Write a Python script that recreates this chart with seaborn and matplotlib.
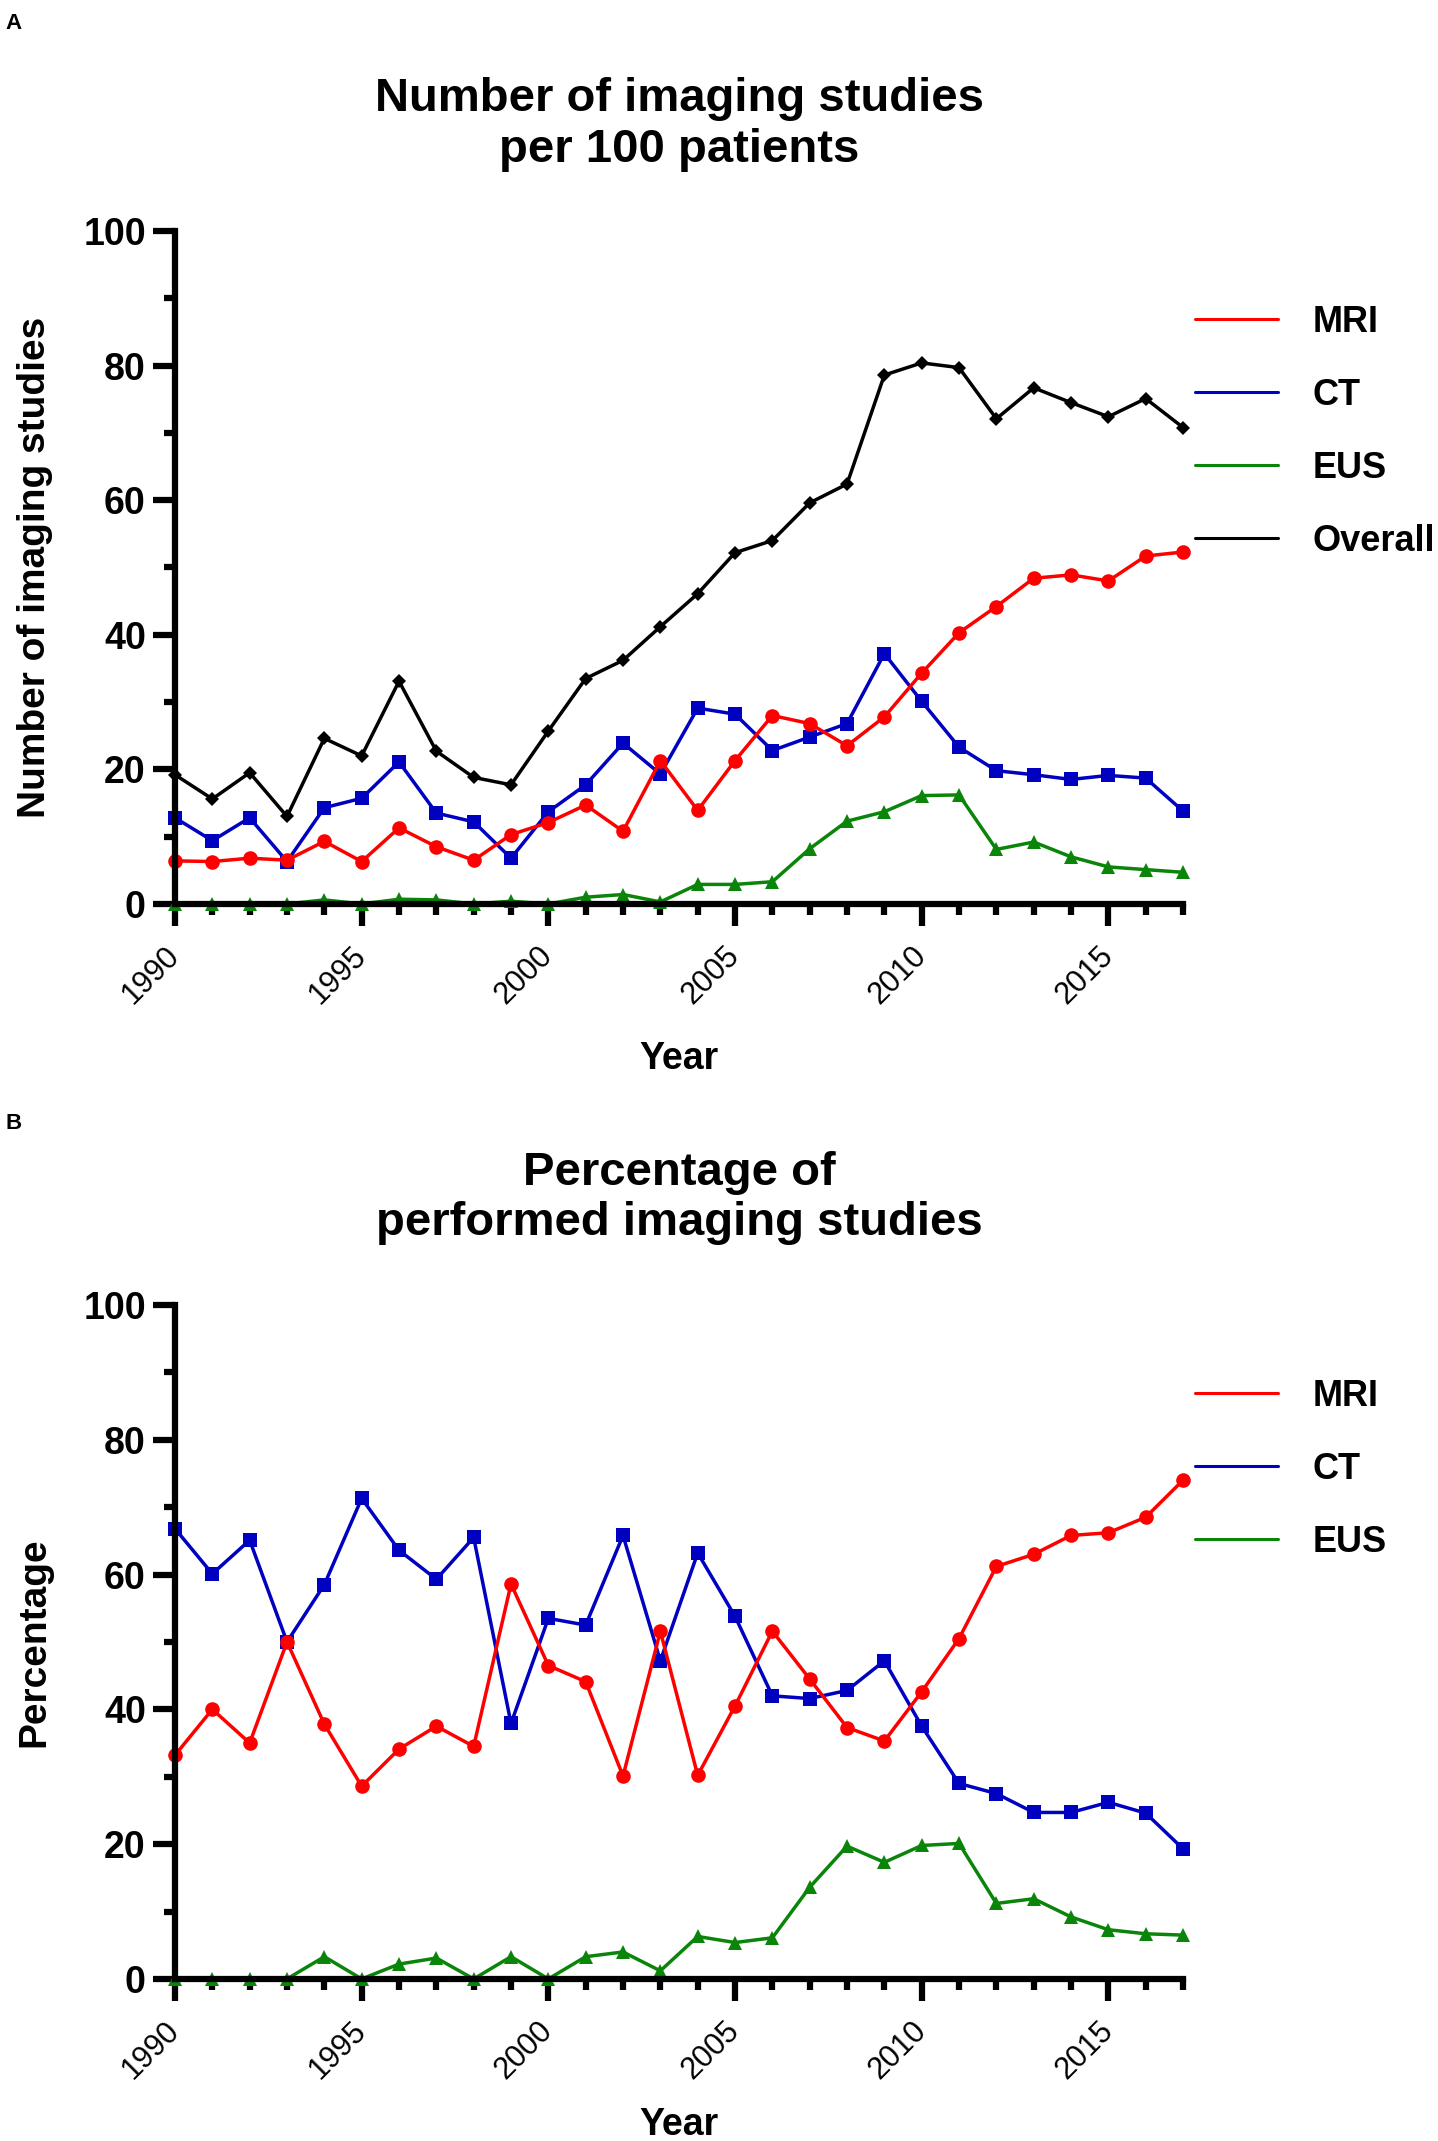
#!/usr/bin/env python3
# -*- coding:utf-8 -*-
import pandas as pd
import matplotlib
matplotlib.use("Agg")
import matplotlib.pyplot as plt
from matplotlib.lines import Line2D
from matplotlib.ticker import MultipleLocator
import seaborn as sns

years = list(range(1990, 2018))

# A: imaging studies per 100 patients
mri_count = [6.4, 6.3, 6.8, 6.5, 9.3, 6.3, 11.3, 8.5, 6.5, 10.3, 12.1, 14.7, 10.8, 21.3,
             13.9, 21.3, 28.0, 26.8, 23.5, 27.8, 34.3, 40.3, 44.2, 48.4, 48.9, 48.0, 51.7, 52.3]
ct_count = [12.8, 9.4, 12.8, 6.3, 14.3, 15.7, 21.1, 13.5, 12.2, 6.8, 13.7, 17.7, 23.9, 19.3,
            29.1, 28.2, 22.8, 24.8, 26.8, 37.2, 30.1, 23.3, 19.8, 19.2, 18.5, 19.1, 18.7, 13.8]
eus_count = [0, 0, 0, 0, 0.6, 0, 0.7, 0.6, 0, 0.4, 0, 1.0, 1.4, 0.3,
             2.9, 2.9, 3.3, 8.2, 12.3, 13.7, 16.1, 16.2, 8.1, 9.2, 7.0, 5.5, 5.1, 4.7]
overall_count = [19.2, 15.6, 19.5, 13.0, 24.6, 22.0, 33.1, 22.7, 18.8, 17.7, 25.7, 33.5, 36.2, 41.2,
                 46.1, 52.2, 54.0, 59.6, 62.4, 78.6, 80.4, 79.7, 72.1, 76.7, 74.5, 72.4, 75.1, 70.8]

# B: percentage of performed imaging studies
mri_pct = [33.2, 40.0, 35.0, 50.0, 37.8, 28.6, 34.1, 37.5, 34.5, 58.6, 46.5, 44.1, 30.1, 51.6,
           30.2, 40.5, 51.6, 44.5, 37.3, 35.3, 42.6, 50.5, 61.2, 63.0, 65.8, 66.2, 68.5, 74.0]
ct_pct = [66.8, 60.1, 65.1, 50.0, 58.5, 71.3, 63.6, 59.3, 65.5, 37.9, 53.5, 52.5, 65.8, 47.2,
          63.2, 53.8, 42.0, 41.6, 42.8, 47.2, 37.5, 29.0, 27.5, 24.7, 24.7, 26.2, 24.6, 19.3]
eus_pct = [0, 0, 0, 0, 3.3, 0, 2.2, 3.1, 0, 3.3, 0, 3.3, 4.0, 1.2,
           6.3, 5.4, 6.1, 13.6, 19.7, 17.3, 19.8, 20.1, 11.2, 11.9, 9.2, 7.3, 6.7, 6.5]

colors = {"MRI": "#FF0000", "CT": "#0000C0", "EUS": "#0A850A", "Overall": "#000000"}
markers = {"MRI": ("o", 10.5), "CT": ("s", 10.5), "EUS": ("^", 10.5), "Overall": ("D", 7.5)}

sns.set_style("ticks")
plt.rcParams['font.family'] = ['Liberation Sans', 'DejaVu Sans']
for k in ["text.color", "axes.labelcolor", "xtick.color", "ytick.color", "axes.edgecolor"]:
    plt.rcParams[k] = "black"


def plot_panel(ax, series, title, ylabel, xpad):
    # draw in reverse so MRI ends up on top
    for name in list(series)[::-1]:
        df = pd.DataFrame({"Year": years, "value": series[name]})
        m, ms = markers[name]
        sns.lineplot(data=df, x="Year", y="value", ax=ax, color=colors[name],
                     marker=m, markersize=ms, markeredgewidth=0, linewidth=2.5,
                     clip_on=False)
    ax.set_xlim(1990, 2017)
    ax.set_ylim(0, 100)
    ax.xaxis.set_major_locator(MultipleLocator(5))
    ax.xaxis.set_minor_locator(MultipleLocator(1))
    ax.yaxis.set_major_locator(MultipleLocator(20))
    ax.yaxis.set_minor_locator(MultipleLocator(10))
    sns.despine(ax=ax)
    for s in ["left", "bottom"]:
        ax.spines[s].set_linewidth(4.5)
    ax.tick_params(which="major", length=16, width=4.5)
    ax.tick_params(which="minor", length=8, width=4.5)
    ax.tick_params(axis="y", labelsize=27, pad=5)
    ax.tick_params(axis="x", labelsize=22, pad=18)
    for lab in ax.get_yticklabels():
        lab.set_fontweight("bold")
    for lab in ax.get_xticklabels():
        lab.set_rotation(45)
        lab.set_ha("right")
        lab.set_va("center")
        lab.set_rotation_mode("anchor")
    ax.set_xlabel("Year", fontsize=27, fontweight="bold", labelpad=xpad)
    ax.set_ylabel(ylabel, fontsize=28, fontweight="bold", labelpad=22)
    ax.set_title(title, fontsize=34, fontweight="bold", pad=50, linespacing=1.2)
    handles = [Line2D([], [], color=colors[n], lw=2.2) for n in series]
    ax.legend(handles, list(series), loc="upper left", bbox_to_anchor=(1.012, 0.89),
              frameon=False, handlelength=2.3, handletextpad=0.95,
              labelspacing=1.05, borderpad=0, borderaxespad=0,
              prop={"weight": "bold", "size": 26})


f = plt.figure(figsize=(14.38, 21.41), dpi=100)
ax_a = f.add_axes([0.1217, 0.5778, 0.701, 0.3143])
ax_b = f.add_axes([0.1217, 0.0757, 0.701, 0.3148])

plot_panel(ax_a, {"MRI": mri_count, "CT": ct_count, "EUS": eus_count, "Overall": overall_count},
           "Number of imaging studies\nper 100 patients", "Number of imaging studies", 22)
plot_panel(ax_b, {"MRI": mri_pct, "CT": ct_pct, "EUS": eus_pct},
           "Percentage of\nperformed imaging studies", "Percentage", 16)

f.text(0.004, 0.994, "A", fontsize=16, fontweight="bold", va="top")
f.text(0.004, 0.480, "B", fontsize=16, fontweight="bold", va="top")

f.savefig("out.png", dpi=100)
